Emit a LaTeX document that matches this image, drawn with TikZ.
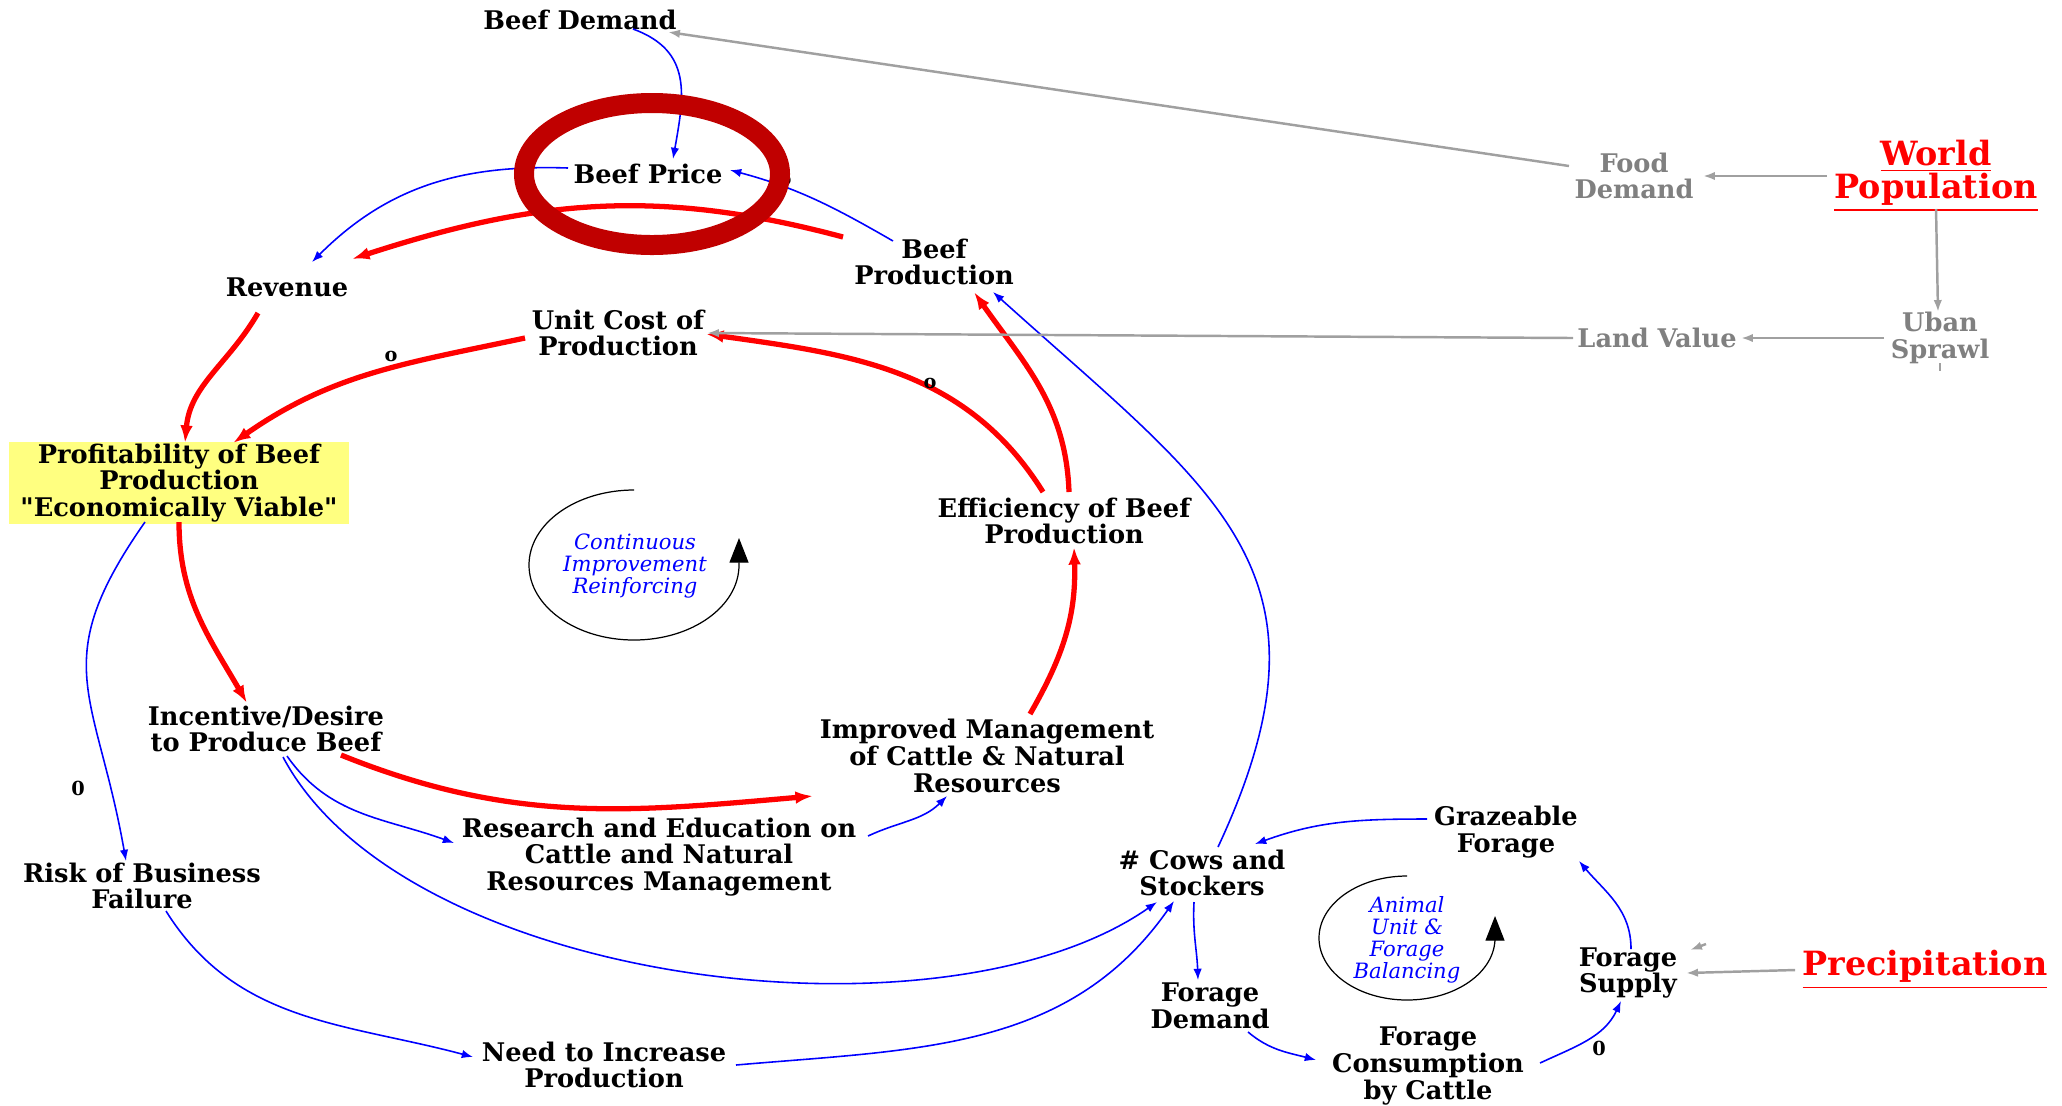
\documentclass[tikz,border=0pt]{standalone}
\usepackage{fontspec}
\setmainfont{DejaVu Serif}[Ligatures=TeXOff]
\usetikzlibrary{arrows.meta}
\definecolor{CLDBlue}{RGB}{0,0,255}
\definecolor{CLDRed}{RGB}{255,0,0}
\definecolor{CLDDarkRed}{RGB}{192,0,0}
\definecolor{CLDGray}{RGB}{160,160,160}
\definecolor{CLDTextGray}{RGB}{128,128,128}
\definecolor{CLDYellow}{RGB}{255,255,128}

\begin{document}
\begin{tikzpicture}[
    var/.style={font=\bfseries\fontsize{7.3}{7.6}\selectfont,align=center,inner sep=1pt},
    extvar/.style={var,text=CLDTextGray},
    driver/.style={font=\bfseries\fontsize{9.5}{9.4}\selectfont,text=CLDRed,align=center,inner sep=1pt},
    loopname/.style={font=\itshape\fontsize{6}{6.3}\selectfont,text=CLDBlue,align=center},
    polarity/.style={font=\bfseries\fontsize{5.5}{6}\selectfont,inner sep=0pt},
    bluelink/.style={-{Latex[length=3.2pt,width=2.4pt]},CLDBlue,line width=0.45pt},
    redlink/.style={-{Latex[length=5pt,width=3.6pt]},CLDRed,line width=1.5pt},
    graylink/.style={-{Latex[length=3.4pt,width=2.4pt]},CLDGray,line width=0.7pt},
    loopmark/.style={-{Triangle[length=7pt,width=5.4pt]},black,line width=0.35pt}]
  \useasboundingbox (0,0) rectangle (20.62,-11.05);

  % variables
  \node[var] (bdemand) at (5.80,-0.20) {Beef Demand};
  \node[var] (bprice) at (6.48,-1.74) {Beef Price};
  \node[var] (revenue) at (2.87,-2.87) {Revenue};
  \node[var] (bprod) at (9.34,-2.62) {Beef\\Production};
  \node[var] (ucost) at (6.18,-3.33) {Unit Cost of\\Production};
  \node[var,fill=CLDYellow,minimum width=3.4cm,inner sep=0.5pt] (profit) at (1.79,-4.83) {Profitability of Beef\\Production\\"Economically Viable"};
  \node[var] (effic) at (10.64,-5.21) {Efficiency of Beef\\Production};
  \node[var] (incent) at (2.66,-7.29) {Incentive/Desire\\to Produce Beef};
  \node[var] (improved) at (9.87,-7.56) {Improved Management\\of Cattle \& Natural\\Resources};
  \node[var] (research) at (6.59,-8.57) {Research and Education on\\Cattle and Natural\\Resources Management};
  \node[var] (risk) at (1.42,-8.86) {Risk of Business\\Failure};
  \node[var] (need) at (6.04,-10.65) {Need to Increase\\Production};
  \node[var] (cows) at (12.02,-8.73) {\# Cows and\\Stockers};
  \node[var] (graze) at (15.06,-8.32) {Grazeable\\Forage};
  \node[var] (fsupply) at (16.28,-9.73) {Forage\\Supply};
  \node[var] (fdemand) at (12.10,-10.06) {Forage\\Demand};
  \node[var] (fcons) at (14.28,-10.66) {Forage\\Consumption\\by Cattle};

  % outside drivers
  \node[driver] (worldpop) at (19.36,-1.76) {\underline{World}\\\underline{Population}};
  \node[driver] (precip) at (19.25,-9.70) {\underline{Precipitation}};
  \node[extvar] (fooddem) at (16.34,-1.76) {Food\\Demand};
  \node[extvar] (landval) at (16.57,-3.38) {Land Value};
  \node[extvar] (sprawl) at (19.40,-3.38) {Uban\\Sprawl};

  % loops
  \node[loopname] (contloop) at (6.35,-5.66) {Continuous\\Improvement\\Reinforcing};
  \node[loopname] (animalloop) at (14.07,-9.40) {Animal\\Unit \&\\Forage\\Balancing};
  \draw[loopmark] ([shift={(-0.01,0.76)}]contloop.center) arc[start angle=90,end angle=360,x radius=1.05cm,y radius=0.75cm] -- ++(0,0.27);
  \draw[loopmark] ([shift={(0,0.64)}]animalloop.center) arc[start angle=90,end angle=360,x radius=0.88cm,y radius=0.62cm] -- ++(0,0.22);

  % links
  \draw[bluelink] ([shift={(0.53,-0.09)}]bdemand.center) to[out=-20,in=80,looseness=1.2] ([shift={(0.25,0.15)}]bprice.center);
  \draw[bluelink] ([shift={(-0.80,0.06)}]bprice.center) to[out=178,in=45] ([shift={(0.25,0.25)}]revenue.center);
  \draw[bluelink] ([shift={(-0.41,0.21)}]bprod.center) to[out=150,in=-15] ([shift={(0.82,0.04)}]bprice.center);
  \draw[redlink] ([shift={(-0.91,0.25)}]bprod.center) to[out=165,in=18] ([shift={(0.65,0.28)}]revenue.center);
  \draw[redlink] ([shift={(-0.29,-0.26)}]revenue.center) to[out=-120,in=85] ([shift={(0.06,0.40)}]profit.center);
  \draw[redlink] ([shift={(-0.93,-0.05)}]ucost.center) to[out=192,in=35] ([shift={(0.54,0.40)}]profit.center);
  \draw[redlink] ([shift={(-0.21,0.29)}]effic.center) to[out=122,in=-8] ([shift={(0.88,-0.01)}]ucost.center);
  \draw[redlink] ([shift={(0.05,0.29)}]effic.center) to[out=92,in=-55] ([shift={(0.40,-0.30)}]bprod.center);
  \draw[redlink] ([shift={(0,-0.39)}]profit.center) to[out=-90,in=120] ([shift={(-0.19,0.26)}]incent.center);
  \draw[redlink] ([shift={(0.75,-0.26)}]incent.center) to[out=-22,in=185] ([shift={(-1.74,-0.40)}]improved.center);
  \draw[redlink] ([shift={(0.43,0.42)}]improved.center) to[out=60,in=-88] ([shift={(0.10,-0.26)}]effic.center);
  \draw[bluelink] ([shift={(0.21,-0.27)}]incent.center) to[out=-55,in=160] ([shift={(-2.05,0.14)}]research.center);
  \draw[bluelink] ([shift={(2.09,0.21)}]research.center) to[out=25,in=-135] ([shift={(-0.40,-0.40)}]improved.center);
  \draw[bluelink] ([shift={(0.17,-0.28)}]incent.center) to[out=-62,in=-145,looseness=0.75] ([shift={(-0.45,-0.29)}]cows.center);
  \draw[bluelink] ([shift={(-0.34,-0.39)}]profit.center) to[out=-125,in=100,looseness=1.3] ([shift={(-0.16,0.25)}]risk.center);
  \draw[bluelink] ([shift={(0.24,-0.25)}]risk.center) to[out=-58,in=165] ([shift={(-1.31,0.08)}]need.center);
  \draw[bluelink] ([shift={(1.32,0)}]need.center) to[out=5,in=-125] ([shift={(-0.28,-0.28)}]cows.center);
  \draw[bluelink] ([shift={(0.16,0.26)}]cows.center) to[out=65,in=-42,looseness=1.3] ([shift={(0.59,-0.30)}]bprod.center);
  \draw[bluelink] ([shift={(-0.79,0.13)}]graze.center) to[out=180,in=20] ([shift={(0.53,0.29)}]cows.center);
  \draw[bluelink] ([shift={(-0.08,-0.29)}]cows.center) to[out=-93,in=92] ([shift={(-0.12,0.26)}]fdemand.center);
  \draw[bluelink] ([shift={(0.38,-0.26)}]fdemand.center) to[out=-40,in=165] ([shift={(-1.12,0.06)}]fcons.center);
  \draw[bluelink] ([shift={(1.12,0.03)}]fcons.center) to[out=25,in=-115] ([shift={(-0.07,-0.28)}]fsupply.center);
  \draw[bluelink] ([shift={(0.03,0.24)}]fsupply.center) to[out=90,in=-50] ([shift={(0.73,-0.29)}]graze.center);

  % outside links
  \draw[graylink] ([shift={(-1.09,0)}]worldpop.center) -- ([shift={(0.69,0)}]fooddem.center);
  \draw[graylink] ([shift={(-0.65,0.10)}]fooddem.center) -- ([shift={(0.88,-0.12)}]bdemand.center);
  \draw[graylink] ([shift={(0,-0.33)}]worldpop.center) -- ([shift={(-0.02,0.26)}]sprawl.center);
  \draw[graylink] ([shift={(-0.56,0)}]sprawl.center) -- ([shift={(0.84,0)}]landval.center);
  \draw[graylink] ([shift={(-0.84,0)}]landval.center) -- ([shift={(0.89,0)}]ucost.center);
  \draw[graylink] ([shift={(-1.30,0)}]precip.center) -- ([shift={(0.58,0)}]fsupply.center);
  \draw[graylink] ([shift={(0.78,0.29)}]fsupply.center) -- ([shift={(0.62,0.23)}]fsupply.center);
  \draw[CLDGray,line width=0.7pt] ([shift={(0,-0.25)}]sprawl.center) -- ([shift={(0,-0.33)}]sprawl.center);

  % polarity marks
  \node[polarity] (pucost) at (3.91,-3.56) {o};
  \node[polarity] (peffic) at (9.30,-3.83) {o};
  \node[polarity] (prisk) at (0.78,-7.88) {0};
  \node[polarity] (pfsupply) at (15.99,-10.48) {0};
  \node[polarity] (pbprice) at (7.85,-1.80) {o};

  % highlight
  \draw[CLDDarkRed,line width=0.2cm] ([xshift=0.04cm]bprice.center) ellipse [x radius=1.28cm,y radius=0.71cm];
\end{tikzpicture}
\end{document}
